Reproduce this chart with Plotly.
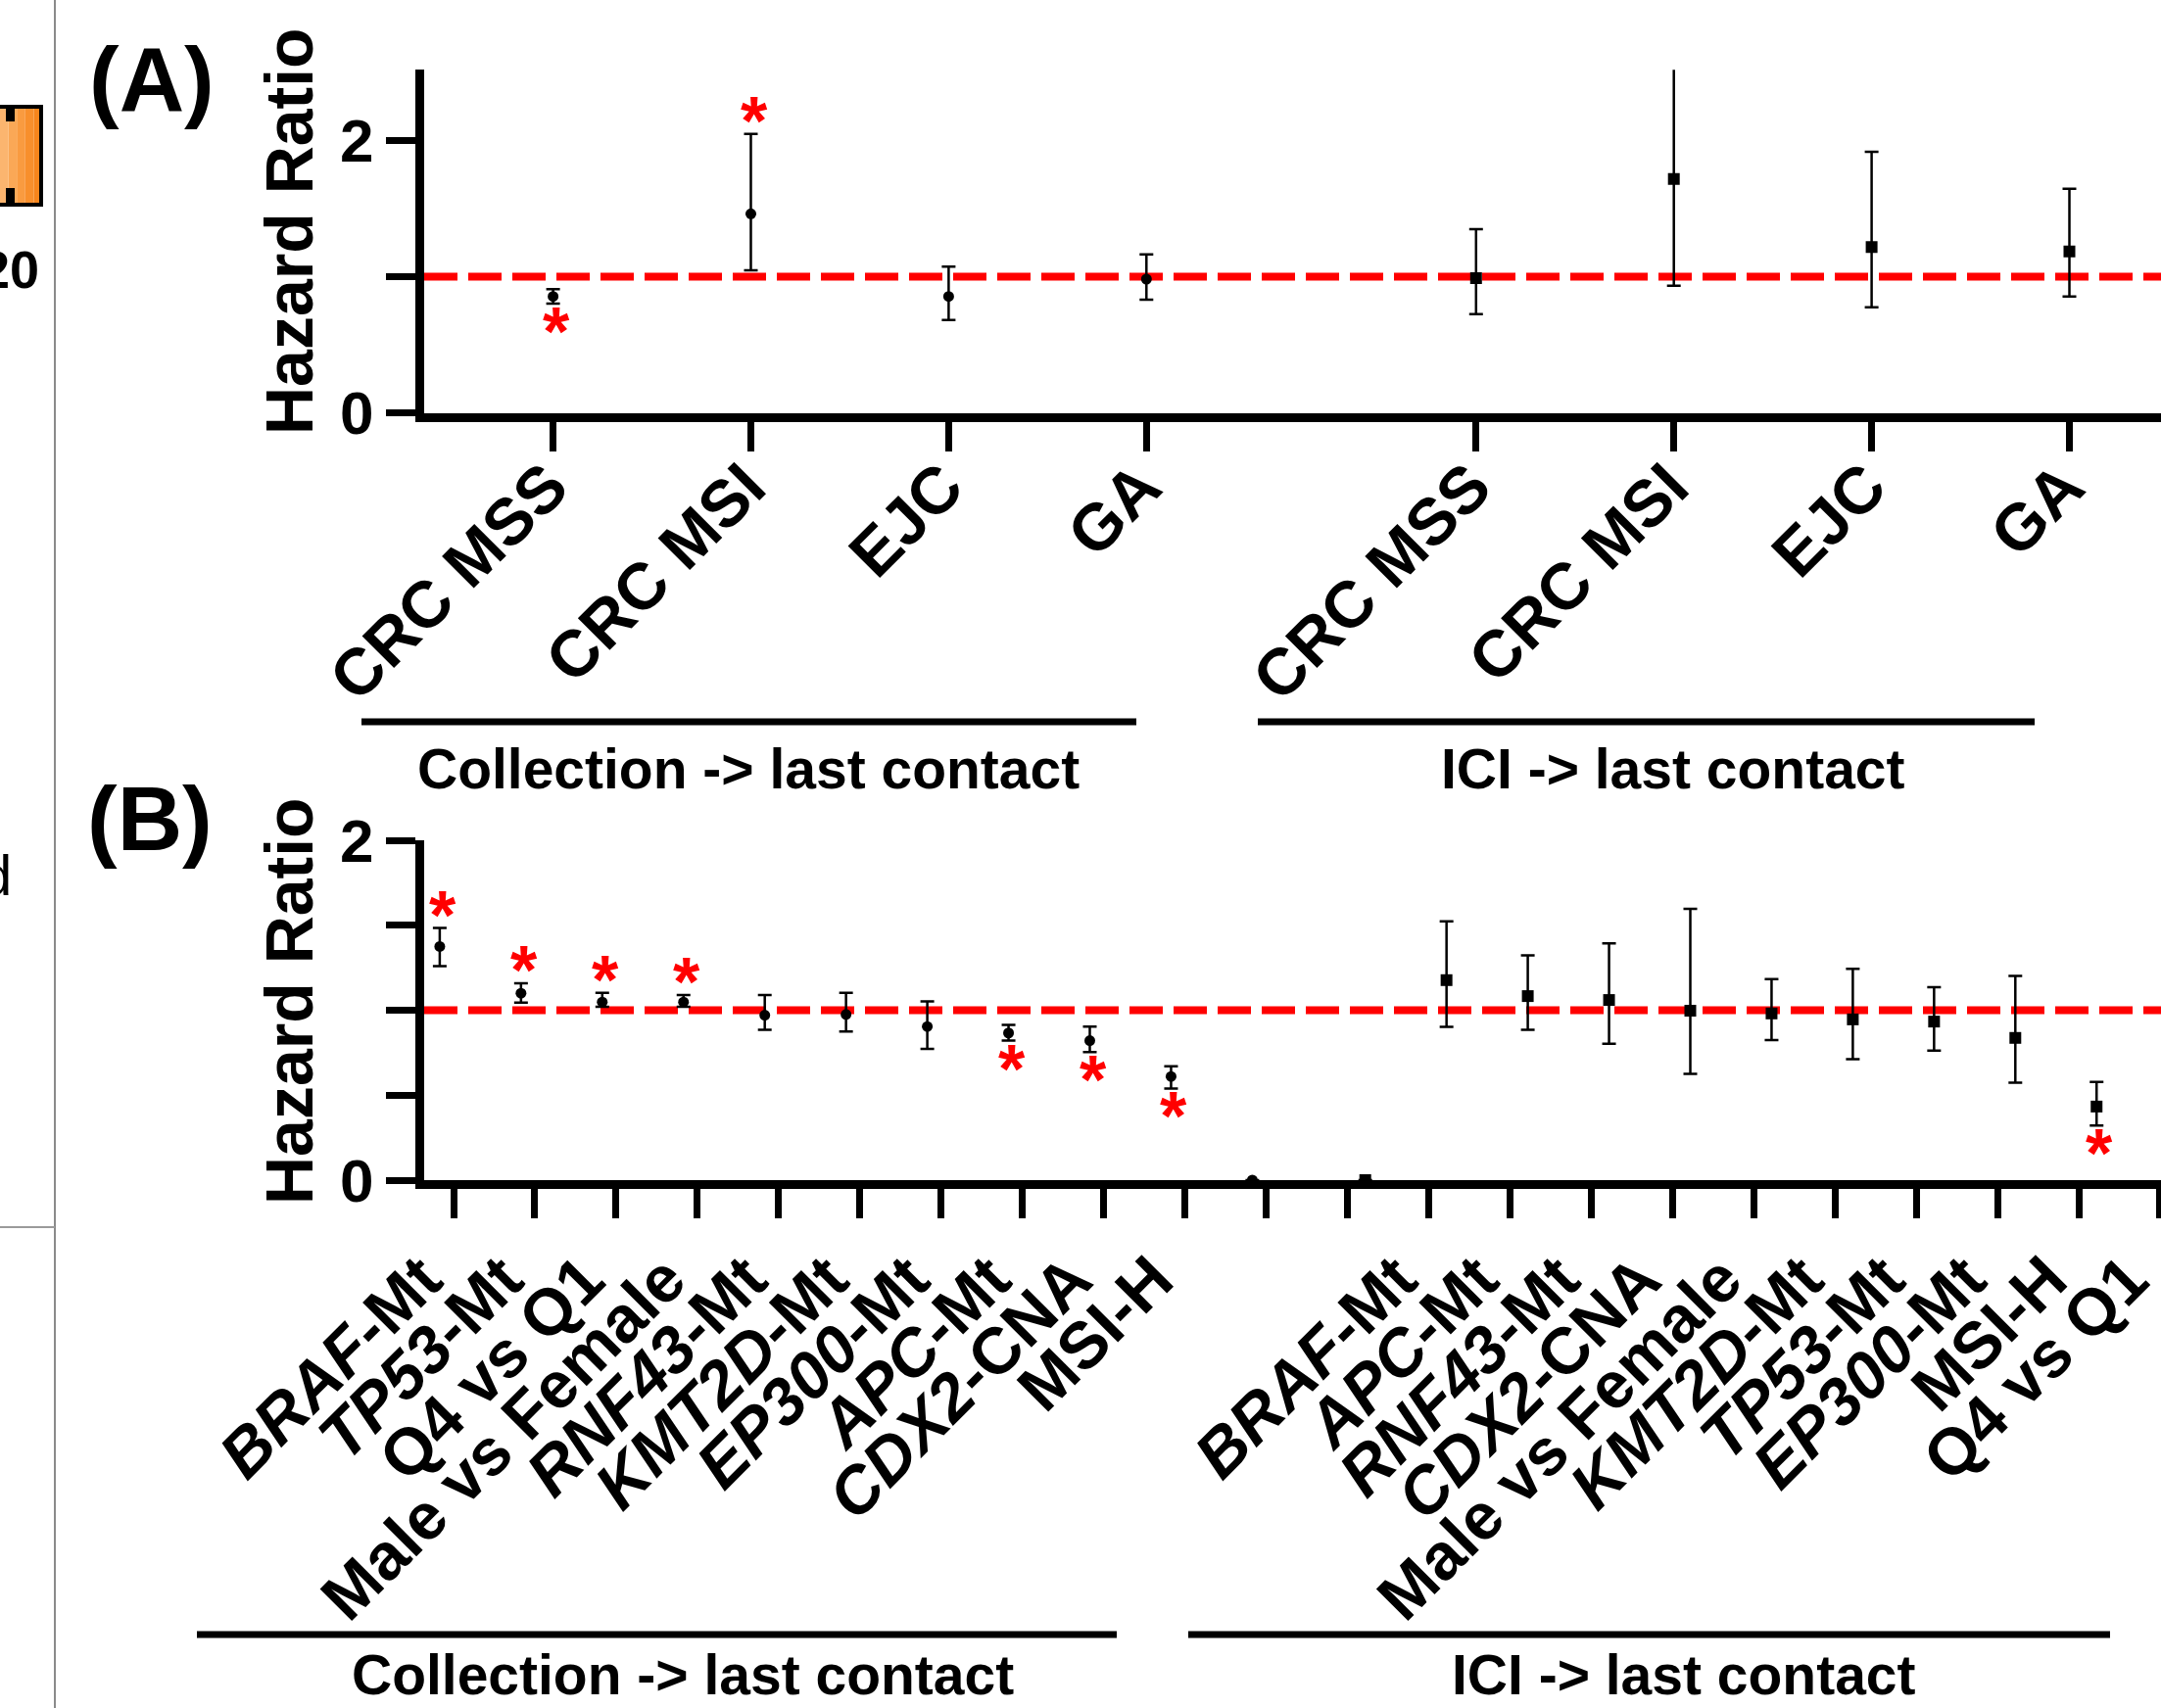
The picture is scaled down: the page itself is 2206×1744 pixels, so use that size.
import plotly.graph_objects as go

W, H = 2206, 1744
FONT = "Liberation Sans, Arial, sans-serif"

# ---------------- Panel A data ----------------
a_cats = ["CRC MSS", "CRC MSI", "EJC", "GA"]
a_coll_hr = [0.855, 1.462, 0.855, 0.982]
a_coll_lo = [0.802, 1.047, 0.682, 0.831]
a_coll_hi = [0.908, 2.049, 1.073, 1.164]
a_coll_sig = ["below", "above", "", ""]
a_ici_hr = [0.989, 1.718, 1.217, 1.186]
a_ici_lo = [0.725, 0.934, 0.776, 0.855]
a_ici_hi = [1.349, 2.700, 1.917, 1.646]
a_ici_sig = ["", "", "", ""]
group_names = ["Collection -> last contact", "ICI -> last contact"]

# ---------------- Panel B data ----------------
b_coll_labels = ["<i>BRAF</i>-Mt", "<i>TP53</i>-Mt", "Q4 vs Q1", "Male vs Female",
                 "<i>RNF43</i>-Mt", "<i>KMT2D</i>-Mt", "<i>EP300</i>-Mt", "<i>APC</i>-Mt",
                 "<i>CDX2</i>-CNA", "MSI-H"]
b_coll_hr = [1.375, 1.100, 1.048, 1.048, 0.971, 0.975, 0.904, 0.866, 0.821, 0.610]
b_coll_lo = [1.259, 1.044, 1.020, 1.020, 0.885, 0.875, 0.773, 0.821, 0.754, 0.539]
b_coll_hi = [1.484, 1.158, 1.102, 1.090, 1.090, 1.102, 1.052, 0.913, 0.904, 0.670]
b_coll_sig = ["above", "above", "above", "above", "", "", "", "below", "below", "below"]

b_blank_labels = ["", ""]
b_blank_coll_hr = [0.0, None]
b_blank_ici_hr = [None, 0.0]

b_ici_labels = ["<i>BRAF</i>-Mt", "<i>APC</i>-Mt", "<i>RNF43</i>-Mt", "<i>CDX2</i>-CNA",
                "Male vs Female", "<i>KMT2D</i>-Mt", "<i>TP53</i>-Mt", "<i>EP300</i>-Mt",
                "MSI-H", "Q4 vs Q1"]
b_ici_hr = [1.177, 1.083, 1.060, 0.997, 0.981, 0.946, 0.933, 0.837, 0.433, None]
b_ici_lo = [0.902, 0.885, 0.802, 0.625, 0.824, 0.712, 0.762, 0.573, 0.322, None]
b_ici_hi = [1.523, 1.323, 1.394, 1.596, 1.183, 1.244, 1.135, 1.202, 0.578, None]
b_ici_sig = ["", "", "", "", "", "", "", "", "below", ""]


def fx(x):
    return x / W


def fy(y):
    return 1 - y / H


def err(hr, lo, hi):
    up = [None if (v is None or h is None) else h - v for v, h in zip(hr, hi)]
    dn = [None if (v is None or l is None) else v - l for v, l in zip(hr, lo)]
    return up, dn


fig = go.Figure()

# ---------- positions (computed) ----------
A_GAP = 5.0 / 3.0
a_x1 = list(range(len(a_cats)))
a_x2 = [len(a_cats) - 1 + A_GAP + i for i in range(len(a_cats))]

n_c = len(b_coll_labels)
n_b = len(b_blank_labels)
n_i = len(b_ici_labels)
b_labels = b_coll_labels + b_blank_labels + b_ici_labels
b_rows = list(range(len(b_labels)))
C_OFF, I_OFF = -0.17, 0.22
b_coll_vals = b_coll_hr + b_blank_coll_hr + [None] * n_i
b_coll_lo_all = b_coll_lo + [None] * (n_b + n_i)
b_coll_hi_all = b_coll_hi + [None] * (n_b + n_i)
b_ici_vals = [None] * n_c + b_blank_ici_hr + b_ici_hr
b_ici_lo_all = [None] * (n_c + n_b) + b_ici_lo
b_ici_hi_all = [None] * (n_c + n_b) + b_ici_hi

EB = dict(type="data", symmetric=False, thickness=2.5, width=7, color="black")


def add_series(x, hr, lo, hi, symbol, size, xa, ya):
    up, dn = err(hr, lo, hi)
    eb = dict(EB, array=up, arrayminus=dn)
    fig.add_trace(go.Scatter(x=x, y=hr, mode="markers", xaxis=xa, yaxis=ya,
                             marker=dict(symbol=symbol, size=size, color="black"),
                             error_y=eb, showlegend=False, hoverinfo="skip"))


add_series(a_x1, a_coll_hr, a_coll_lo, a_coll_hi, "circle", 11, "x", "y")
add_series(a_x2, a_ici_hr, a_ici_lo, a_ici_hi, "square", 12, "x", "y")
add_series([r + C_OFF for r in b_rows], b_coll_vals, b_coll_lo_all, b_coll_hi_all, "circle", 11, "x2", "y2")
add_series([r + I_OFF for r in b_rows], b_ici_vals, b_ici_lo_all, b_ici_hi_all, "square", 12, "x2", "y2")

# ---------- significance asterisks ----------
annotations = []
STAR_FONT = dict(family=FONT, size=70, color="#ff0000", weight="bold")


def add_stars(xs, lo, hi, sig, xref, yref):
    for x, l, h, s in zip(xs, lo, hi, sig):
        if s == "above":
            annotations.append(dict(x=x, y=h, xref=xref, yref=yref, text="*", showarrow=False,
                                    font=STAR_FONT, yshift=13, xshift=3))
        elif s == "below":
            annotations.append(dict(x=x, y=l, xref=xref, yref=yref, text="*", showarrow=False,
                                    font=STAR_FONT, yshift=-29, xshift=3))


add_stars(a_x1, a_coll_lo, a_coll_hi, a_coll_sig, "x", "y")
add_stars(a_x2, a_ici_lo, a_ici_hi, a_ici_sig, "x", "y")
add_stars([r + C_OFF for r in b_rows[:n_c]], b_coll_lo, b_coll_hi, b_coll_sig, "x2", "y2")
add_stars([r + I_OFF for r in b_rows[n_c + n_b:]], b_ici_lo, b_ici_hi, b_ici_sig, "x2", "y2")

# ---------- axes ----------
TICKFONT = dict(family=FONT, size=62, color="black", weight="bold")
XTICKFONT = dict(family=FONT, size=67, color="black", weight="bold")
AX = dict(showline=True, linewidth=9, linecolor="black", ticks="outside", ticklen=30,
          tickwidth=7, tickcolor="black", showgrid=False, zeroline=False, tickfont=TICKFONT,
          automargin=False, ticklabeloverflow="allow")

XL = 433
a_unit, a_t0 = 201.9, 564.6
b_unit, b_t0 = 82.95, 463.0

fig.update_layout(
    xaxis=dict(AX, domain=[fx(XL), 1], range=[(XL - a_t0) / a_unit, (W - a_t0) / a_unit],
               tickvals=a_x1 + a_x2, ticktext=a_cats + a_cats, tickangle=-45, anchor="y",
               tickfont=XTICKFONT, ticklabelstandoff=-30, ticklabelshift=-5),
    yaxis=dict(AX, domain=[fy(421.5), fy(71.2)], range=[0, 2.52], tickvals=[0, 1, 2],
               ticktext=["0", "", "2"], anchor="x"),
    xaxis2=dict(AX, domain=[fx(XL), 1], range=[(XL - b_t0) / b_unit, (W - b_t0) / b_unit],
                tickvals=b_rows, ticktext=b_labels, tickangle=-45, anchor="y2",
                tickfont=XTICKFONT, ticklabelstandoff=-4, ticklabelshift=-32),
    yaxis2=dict(AX, domain=[fy(1205), fy(858)], range=[0, 2], tickvals=[0, 0.5, 1, 1.5, 2],
                ticktext=["0", "", "", "", "2"], anchor="x2"),
)

shapes = []
# reference lines at HR = 1
for xr, yr in (("x domain", "y"), ("x2 domain", "y2")):
    shapes.append(dict(type="line", xref=xr, yref=yr, x0=0, x1=1, y0=1, y1=1, layer="below",
                       line=dict(color="#ff0000", width=8, dash="34px,11px")))

# group underlines and labels
GL_FONT = dict(family=FONT, size=57, color="black", weight="bold")
for (x0, x1, y, cx, cy, name) in [
    (369, 1160, 737, 764, 785, group_names[0]),
    (1284, 2077, 737, 1708, 785, group_names[1]),
    (201, 1140, 1669, 697, 1710, group_names[0]),
    (1213, 2154, 1669, 1719, 1710, group_names[1]),
]:
    shapes.append(dict(type="line", xref="paper", yref="paper", x0=fx(x0), x1=fx(x1),
                       y0=fy(y), y1=fy(y), line=dict(color="black", width=7)))
    annotations.append(dict(x=fx(cx), y=fy(cy), xref="paper", yref="paper", text=name,
                            showarrow=False, font=GL_FONT, xanchor="center", yanchor="middle"))

# y axis titles and panel letters
for cy in (236, 1022):
    annotations.append(dict(x=fx(295), y=fy(cy), xref="paper", yref="paper", text="Hazard Ratio",
                            textangle=-90, showarrow=False, xanchor="center", yanchor="middle",
                            font=dict(family=FONT, size=68, color="black", weight="bold")))
for txt, cx, cy in (("(A)", 155, 81), ("(B)", 153, 836)):
    annotations.append(dict(x=fx(cx), y=fy(cy), xref="paper", yref="paper", text=txt,
                            showarrow=False, xanchor="center", yanchor="middle",
                            font=dict(family=FONT, size=92, color="black", weight="bold")))

# fragments of the neighbouring panel on the left edge
oranges = ["#fbb56f", "#faa856", "#f99b40", "#f88f2c", "#f7851c"]
sw = 43 / len(oranges)
for k, c in enumerate(oranges):
    shapes.append(dict(type="rect", xref="paper", yref="paper", x0=fx(k * sw), x1=fx((k + 1) * sw),
                       y0=fy(211), y1=fy(107), fillcolor=c, line=dict(width=0)))
shapes.append(dict(type="rect", xref="paper", yref="paper", x0=fx(-5), x1=fx(42), y0=fy(209),
                   y1=fy(109), fillcolor="rgba(0,0,0,0)", line=dict(color="black", width=4)))
for y0, y1 in ((109, 124), (192, 207)):
    shapes.append(dict(type="rect", xref="paper", yref="paper", x0=fx(6), x1=fx(15), y0=fy(y1),
                       y1=fy(y0), fillcolor="black", line=dict(width=0)))
shapes.append(dict(type="line", xref="paper", yref="paper", x0=fx(56), x1=fx(56), y0=0, y1=1,
                   line=dict(color="#8a8a8a", width=2)))
shapes.append(dict(type="line", xref="paper", yref="paper", x0=0, x1=fx(56), y0=fy(1253),
                   y1=fy(1253), line=dict(color="#9a9a9a", width=2)))
annotations.append(dict(x=fx(42), y=fy(275), xref="paper", yref="paper", text="20", showarrow=False,
                        xanchor="right", yanchor="middle",
                        font=dict(family=FONT, size=54, color="black", weight="bold")))
annotations.append(dict(x=fx(14), y=fy(893), xref="paper", yref="paper", text="d", showarrow=False,
                        xanchor="right", yanchor="middle",
                        font=dict(family=FONT, size=58, color="black")))

fig.update_layout(
    width=W, height=H, margin=dict(l=0, r=0, t=0, b=0, autoexpand=False),
    paper_bgcolor="white", plot_bgcolor="white",
    shapes=shapes, annotations=annotations, showlegend=False,
)

fig.write_html("out.html", config={"displayModeBar": False},
               post_script="document.body.style.margin='0px';document.body.style.overflow='hidden';")
